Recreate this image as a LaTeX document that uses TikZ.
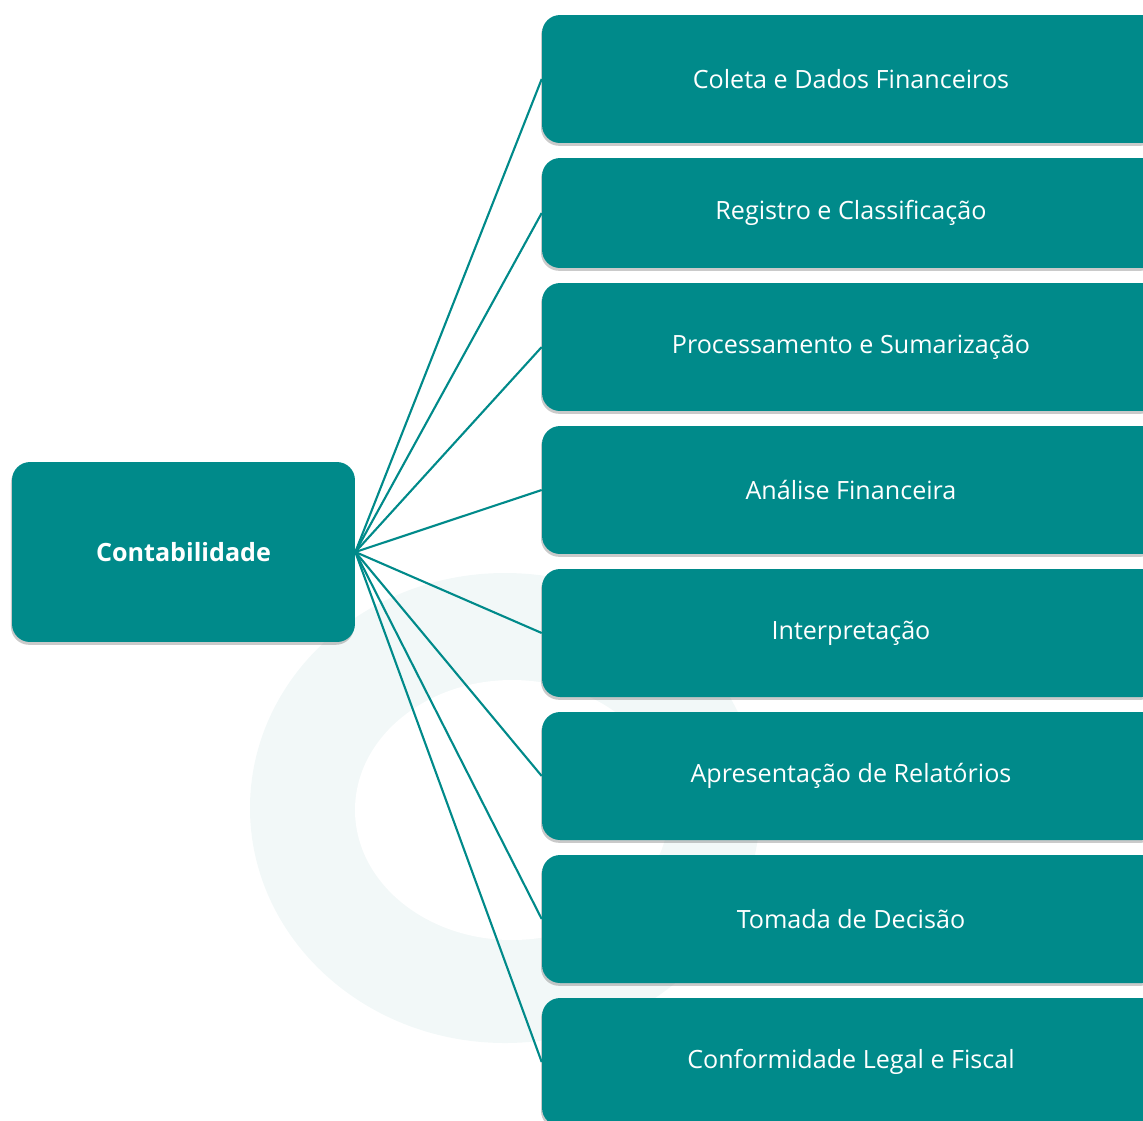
\documentclass[tikz,border=0pt]{standalone}
\usepackage{fontspec}
\setmainfont{Open Sans}
\usetikzlibrary{shadows}
\definecolor{tealbox}{HTML}{008A8A}
\definecolor{tealmark}{HTML}{F2F8F8}
\tikzset{
  stagebox/.style={rectangle, rounded corners=0.36cm, fill=tealbox, text=white,
    minimum width=12.36cm, minimum height=2.56cm, inner sep=0pt,
    font=\fontsize{14.3}{16}\selectfont,
    drop shadow={shadow xshift=-0.6pt, shadow yshift=-1.6pt, opacity=0.35, fill=black!60}},
  rootbox/.style={stagebox, minimum width=6.86cm, minimum height=3.6cm,
    font=\fontsize{14.3}{16}\selectfont\bfseries},
  link/.style={draw=tealbox, line width=1.2pt}
}
\begin{document}
\begin{tikzpicture}[x=0.02cm, y=-0.02cm]

\useasboundingbox (0,0) rectangle (1143,1120);

\fill[tealmark] (505,808) ellipse [x radius=255, y radius=235];
\fill[white] (512,810) ellipse [x radius=157, y radius=130];

\node[rootbox] (root) at (183.5,552) {Contabilidade};

\node[stagebox] (coleta) at (851,79) {Coleta e Dados Financeiros};
\node[stagebox, minimum height=2.2cm] (registro) at (851,213) {Registro e Classificação};
\node[stagebox] (process) at (851,347) {Processamento e Sumarização};
\node[stagebox] (analise) at (851,490) {Análise Financeira};
\node[stagebox] (interp) at (851,633) {Interpretação};
\node[stagebox] (apres) at (851,776) {Apresentação de Relatórios};
\node[stagebox] (decisao) at (851,919) {Tomada de Decisão};
\node[stagebox] (conform) at (851,1062) {Conformidade Legal e Fiscal};

\foreach \target in {coleta,registro,process,analise,interp,apres,decisao,conform}
  \draw[link] (root.east) -- (\target.west);

\end{tikzpicture}
\end{document}
